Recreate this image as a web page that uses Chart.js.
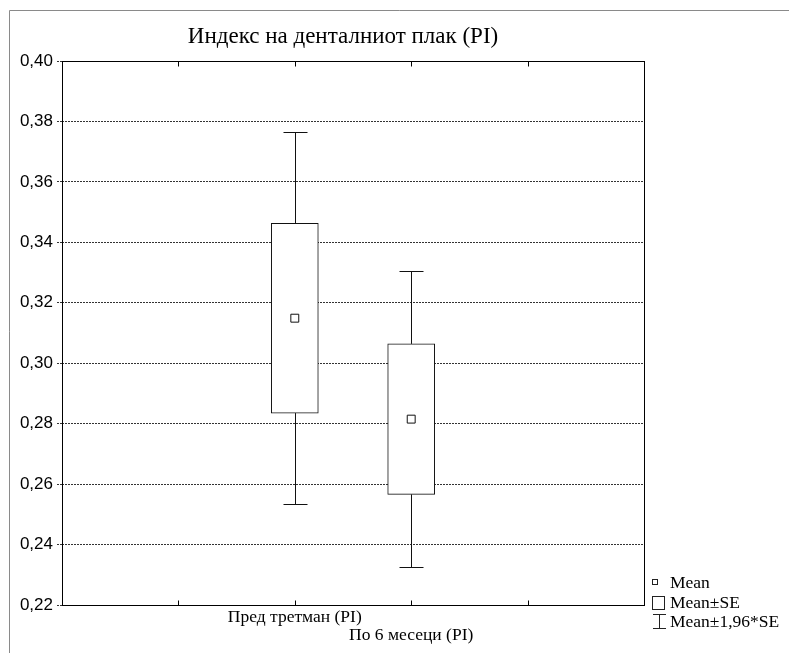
<!DOCTYPE html>
<html>
<head>
<meta charset="utf-8">
<script src="https://cdn.jsdelivr.net/npm/chart.js@4.4.0/dist/chart.umd.min.js"></script>
<style>
  body { margin: 0; background: #fff; }
  #wrap { width: 789px; height: 653px; }
</style>
</head>
<body>
<div id="wrap"><canvas id="plot" width="789" height="653"></canvas></div>
<script>
// Данни (прочитани од сликата)
const titleText = 'Индекс на денталниот плак (PI)';
const groups = ['Пред третман (PI)', 'По 6 месеци (PI)'];
const groupPos = [2, 3];
const means = [0.3149, 0.2815];
const seLow = [0.2835, 0.2566];
const seHigh = [0.3463, 0.3064];
const ciLow = [0.2535, 0.2326];
const ciHigh = [0.3765, 0.3304];
const yTicks = [0.22, 0.24, 0.26, 0.28, 0.30, 0.32, 0.34, 0.36, 0.38, 0.40];
const xTicks = [0, 1, 2, 3, 4, 5];
const legendItems = ['Mean', 'Mean±SE', 'Mean±1,96*SE'];

const serif = '"Liberation Serif", "Times New Roman", serif';
const sans = '"Liberation Sans", Arial, sans-serif';

// рамка, наслов, ознаки, мустаќи и легенда
const decor = {
    id: 'decor',
    beforeDraw(chart) {
        const ctx = chart.ctx;
        ctx.save();
        ctx.strokeStyle = '#8a8a8a';
        ctx.lineWidth = 1;
        ctx.beginPath();
        ctx.moveTo(9.5, 653);
        ctx.lineTo(9.5, 10.5);
        ctx.lineTo(789, 10.5);
        ctx.stroke();
        ctx.fillStyle = '#000';
        ctx.font = '23px ' + serif;
        ctx.textAlign = 'center';
        ctx.textBaseline = 'middle';
        ctx.fillText(titleText, 343, 37);
        ctx.restore();
    },
    afterDatasetsDraw(chart) {
        const ctx = chart.ctx;
        const xs = chart.scales.x, ys = chart.scales.y;
        ctx.save();
        ctx.strokeStyle = '#111';
        ctx.lineWidth = 1;
        groupPos.forEach((p, i) => {
            const x = Math.round(xs.getPixelForValue(p)) + 0.5;
            const yTop = Math.round(ys.getPixelForValue(ciHigh[i])) + 0.5;
            const yHi = ys.getPixelForValue(seHigh[i]);
            const yLo = ys.getPixelForValue(seLow[i]);
            const yBot = Math.round(ys.getPixelForValue(ciLow[i])) + 0.5;
            ctx.beginPath();
            ctx.moveTo(x, yHi); ctx.lineTo(x, yTop);
            ctx.moveTo(x - 12, yTop); ctx.lineTo(x + 12, yTop);
            ctx.moveTo(x, yLo); ctx.lineTo(x, yBot);
            ctx.moveTo(x - 12, yBot); ctx.lineTo(x + 12, yBot);
            ctx.stroke();
        });
        ctx.restore();
    },
    afterDraw(chart) {
        const ctx = chart.ctx;
        const a = chart.chartArea;
        const xs = chart.scales.x;
        ctx.save();
        ctx.strokeStyle = '#000';
        ctx.lineWidth = 1;
        const l = Math.round(a.left) + 0.5, r = Math.round(a.right) + 0.5;
        const t = Math.round(a.top) + 0.5, b = Math.round(a.bottom) + 0.5;
        ctx.strokeRect(l, t, r - l, b - t);
        // кратки внатрешни ознаки на x оската
        ctx.beginPath();
        xTicks.slice(1, -1).forEach(v => {
            const x = Math.round(xs.getPixelForValue(v)) + 0.5;
            ctx.moveTo(x, b); ctx.lineTo(x, b - 5);
            ctx.moveTo(x, t); ctx.lineTo(x, t + 5);
        });
        ctx.stroke();

        // легенда
        ctx.fillStyle = '#000';
        ctx.font = '17.5px ' + serif;
        ctx.textAlign = 'left';
        ctx.textBaseline = 'middle';
        ctx.strokeStyle = '#222';
        ctx.strokeRect(652.5, 579.5, 5, 5);
        ctx.strokeRect(652.5, 596.5, 12, 13);
        ctx.beginPath();
        ctx.moveTo(659.5, 614); ctx.lineTo(659.5, 628.5);
        ctx.moveTo(653, 614.5); ctx.lineTo(666, 614.5);
        ctx.moveTo(653, 628.5); ctx.lineTo(666, 628.5);
        ctx.stroke();
        const ly = [583, 603, 622];
        legendItems.forEach((s, i) => ctx.fillText(s, 670, ly[i]));
        ctx.restore();
    }
};

function createChart() {
    const ctx = document.getElementById('plot').getContext('2d');
    new Chart(ctx, {
        data: {
            datasets: [
                {
                    type: 'scatter',
                    data: groupPos.map((p, i) => ({ x: p, y: means[i] })),
                    pointStyle: 'rect',
                    radius: 5.6,
                    backgroundColor: '#fff',
                    borderColor: '#111',
                    borderWidth: 1,
                    order: 0
                },
                {
                    type: 'bar',
                    data: groupPos.map((p, i) => ({ x: p, y: [seLow[i], seHigh[i]] })),
                    backgroundColor: '#fff',
                    borderColor: '#111',
                    borderWidth: 1,
                    borderSkipped: false,
                    barThickness: 47,
                    order: 1
                }
            ]
        },
        options: {
            responsive: false,
            animation: false,
            layout: { padding: { top: 61, right: 145, bottom: 0, left: 0 } },
            plugins: {
                legend: { display: false },
                title: { display: false },
                tooltip: { enabled: false }
            },
            scales: {
                x: {
                    type: 'linear',
                    min: 0,
                    max: 5,
                    offset: false,
                    afterBuildTicks: s => { s.ticks = xTicks.map(v => ({ value: v })); },
                    afterFit: s => { s.height = 48; },
                    grid: { display: false, drawTicks: false, offset: false },
                    border: { display: false },
                    ticks: {
                        autoSkip: false,
                        maxRotation: 0,
                        padding: 3,
                        color: '#000',
                        font: { family: serif, size: 17.5, lineHeight: 1.05 },
                        callback: v => {
                            const i = groupPos.indexOf(v);
                            if (i < 0) return '';
                            return i === 0 ? [groups[0]] : ['', groups[1]];
                        }
                    }
                },
                y: {
                    min: 0.22,
                    max: 0.40,
                    afterBuildTicks: s => { s.ticks = yTicks.map(v => ({ value: v })); },
                    afterFit: s => { s.width = 62; },
                    grid: {
                        color: '#333',
                        lineWidth: 1,
                        tickLength: 5,
                        tickBorderDash: [2, 1]
                    },
                    border: { display: false, dash: [2, 1] },
                    ticks: {
                        padding: 4,
                        color: '#000',
                        font: { family: sans, size: 17 },
                        callback: v => v.toFixed(2).replace('.', ',')
                    }
                }
            }
        },
        plugins: [decor]
    });
}

document.addEventListener('DOMContentLoaded', () => {
    createChart();
});
</script>
</body>
</html>
